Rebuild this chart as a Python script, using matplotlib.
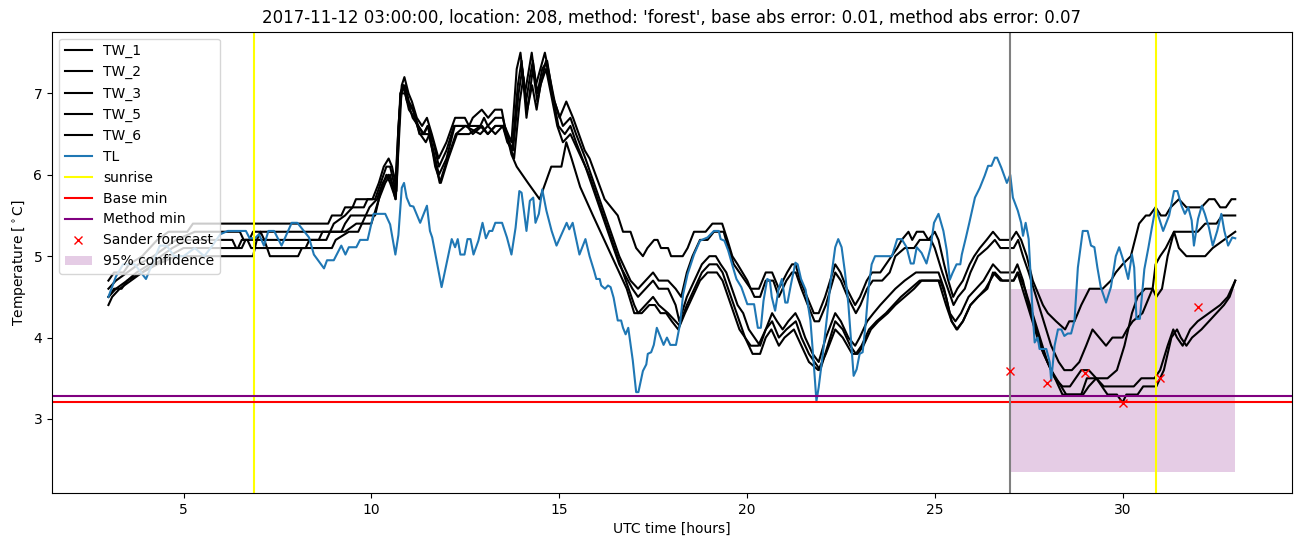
import matplotlib
matplotlib.use("Agg")
import matplotlib.pyplot as plt
import numpy as np

# (hour, temperature) vertices
tw_1 = [(3.0, 4.7), (3.15, 4.8), (3.4, 4.8), (3.55, 4.9), (3.9, 5.0), (4.1, 5.1), (4.3, 5.2), (4.6, 5.3), (5.1, 5.3),
        (5.25, 5.4), (8.85, 5.4), (8.95, 5.5), (9.2, 5.5), (9.3, 5.6), (9.5, 5.6), (9.59, 5.7), (10.03, 5.7), (10.2, 5.9),
        (10.33, 6.1), (10.46, 6.2), (10.55, 6.1), (10.64, 5.9), (10.75, 6.8), (10.81, 7.1), (10.88, 7.2), (10.99, 7.0),
        (11.08, 6.9), (11.21, 6.7), (11.35, 6.6), (11.48, 6.7), (11.61, 6.5), (11.79, 6.2), (12.0, 6.4), (12.23, 6.7),
        (12.49, 6.7), (12.6, 6.6), (12.7, 6.7), (12.94, 6.8), (13.11, 6.7), (13.29, 6.8), (13.47, 6.8), (13.55, 6.6),
        (13.73, 6.4), (13.87, 7.3), (13.97, 7.5), (14.09, 7.0), (14.27, 7.5), (14.38, 7.1), (14.5, 7.3), (14.62, 7.5),
        (14.75, 7.2), (14.88, 6.9), (15.01, 6.7), (15.19, 6.9), (15.37, 6.7), (15.68, 6.3), (15.81, 6.2), (16.21, 5.7),
        (16.56, 5.5), (16.7, 5.3), (16.9, 5.3), (17.05, 5.1), (17.23, 5.0), (17.35, 5.1), (17.53, 5.2), (17.62, 5.2),
        (17.71, 5.1), (17.9, 5.1), (17.98, 5.0), (18.29, 5.0), (18.42, 5.1), (18.59, 5.3), (18.9, 5.3), (19.08, 5.4),
        (19.34, 5.4), (19.48, 5.2), (19.61, 5.0), (19.75, 4.9), (19.88, 4.8), (20.01, 4.7), (20.1, 4.6), (20.32, 4.6),
        (20.5, 4.8), (20.67, 4.8), (20.85, 4.6), (21.07, 4.8), (21.2, 4.9), (21.29, 4.9), (21.42, 4.7), (21.6, 4.5),
        (21.78, 4.3), (21.91, 4.3), (22.08, 4.5), (22.35, 4.9), (22.49, 4.8), (22.66, 4.6), (22.88, 4.4), (23.01, 4.5),
        (23.19, 4.7), (23.33, 4.8), (23.55, 4.8), (23.7, 4.9), (23.85, 5.0), (24.0, 5.1), (24.12, 5.2), (24.3, 5.3),
        (24.4, 5.2), (24.52, 5.3), (24.7, 5.3), (24.83, 5.2), (25.0, 5.3), (25.1, 5.2), (25.25, 4.9), (25.36, 4.7),
        (25.49, 4.5), (25.6, 4.6), (25.75, 4.7), (25.93, 4.9), (26.05, 5.0), (26.2, 5.1), (26.38, 5.2), (26.55, 5.3),
        (26.73, 5.2), (27.03, 5.2), (27.17, 5.3), (27.3, 5.2), (27.45, 5.0), (27.61, 4.7), (27.88, 4.4), (28.01, 4.3),
        (28.23, 4.2), (28.47, 4.1), (28.58, 4.2), (28.72, 4.2), (28.9, 4.4), (29.12, 4.6), (29.47, 4.6), (29.69, 4.7),
        (29.82, 4.8), (30.0, 4.9), (30.22, 5.0), (30.44, 5.4), (30.62, 5.5), (30.72, 5.5), (30.88, 5.6), (31.02, 5.5),
        (31.15, 5.5), (31.28, 5.6), (31.5, 5.7), (31.7, 5.6), (32.1, 5.6), (32.3, 5.7), (32.45, 5.7), (32.6, 5.6),
        (32.75, 5.6), (32.9, 5.7), (33.0, 5.7)]

tw_2 = [(3.0, 4.6), (3.2, 4.7), (3.5, 4.8), (3.8, 4.9), (4.2, 5.0), (4.5, 5.1), (4.8, 5.2), (5.3, 5.3), (6.5, 5.3),
        (6.6, 5.2), (6.75, 5.2), (6.85, 5.3), (8.9, 5.3), (9.0, 5.4), (9.3, 5.5), (9.5, 5.6), (9.8, 5.6), (9.9, 5.7),
        (10.1, 5.7), (10.25, 5.9), (10.4, 6.1), (10.5, 6.1), (10.6, 5.9), (10.67, 5.8), (10.77, 7.0), (10.85, 7.1),
        (10.95, 6.9), (11.1, 6.8), (11.25, 6.6), (11.4, 6.5), (11.5, 6.6), (11.65, 6.4), (11.8, 6.1), (12.0, 6.3),
        (12.2, 6.6), (12.5, 6.6), (12.9, 6.6), (13.0, 6.7), (13.1, 6.6), (13.3, 6.7), (13.5, 6.7), (13.6, 6.5),
        (13.75, 6.3), (13.9, 7.1), (14.0, 7.4), (14.13, 6.7), (14.3, 7.3), (14.42, 6.9), (14.55, 7.2), (14.65, 7.4),
        (14.8, 7.0), (14.95, 6.8), (15.1, 6.6), (15.3, 6.7), (15.45, 6.5), (15.7, 6.2), (16.0, 5.8), (16.3, 5.4),
        (16.6, 5.0), (16.9, 4.7), (17.1, 4.6), (17.3, 4.7), (17.5, 4.8), (17.65, 4.7), (17.9, 4.7), (18.1, 4.6),
        (18.25, 4.5), (18.4, 4.8), (18.55, 5.0), (18.75, 5.2), (18.95, 5.2), (19.12, 5.3), (19.38, 5.3), (19.5, 5.1),
        (19.65, 4.9), (19.8, 4.8), (19.95, 4.7), (20.1, 4.6), (20.2, 4.5), (20.35, 4.5), (20.5, 4.7), (20.7, 4.7),
        (20.85, 4.5), (21.05, 4.7), (21.2, 4.8), (21.3, 4.8), (21.45, 4.6), (21.62, 4.4), (21.8, 4.2), (21.92, 4.2),
        (22.1, 4.4), (22.35, 4.8), (22.5, 4.7), (22.68, 4.5), (22.9, 4.3), (23.02, 4.4), (23.2, 4.6), (23.35, 4.7),
        (23.6, 4.7), (23.8, 4.8), (23.95, 5.0), (24.2, 5.1), (24.45, 5.1), (24.6, 5.2), (24.9, 5.2), (25.0, 5.1),
        (25.2, 4.8), (25.35, 4.6), (25.5, 4.4), (25.62, 4.5), (25.8, 4.6), (25.95, 4.8), (26.15, 5.0), (26.4, 5.1),
        (26.6, 5.2), (26.75, 5.1), (27.1, 5.1), (27.22, 5.2), (27.35, 5.0), (27.5, 4.8), (27.7, 4.5), (27.9, 4.2),
        (28.1, 3.9), (28.3, 3.7), (28.45, 3.6), (28.65, 3.6), (28.85, 3.7), (29.03, 3.9), (29.2, 4.1), (29.38, 4.0),
        (29.56, 3.9), (29.73, 4.0), (30.0, 4.0), (30.12, 4.1), (30.27, 4.2), (30.53, 4.3), (30.8, 4.6), (30.88, 4.9),
        (31.0, 5.0), (31.15, 5.1), (31.37, 5.3), (32.0, 5.3), (32.2, 5.4), (32.5, 5.4), (32.65, 5.5), (33.0, 5.5)]

tw_3 = [(3.0, 4.5), (3.2, 4.6), (3.5, 4.7), (3.75, 4.8), (4.1, 4.9), (4.4, 5.0), (4.7, 5.1), (5.1, 5.2), (6.3, 5.2),
        (6.4, 5.1), (6.55, 5.1), (6.65, 5.2), (8.6, 5.2), (8.7, 5.3), (9.2, 5.3), (9.3, 5.4), (9.45, 5.5), (9.85, 5.5),
        (9.95, 5.6), (10.15, 5.7), (10.3, 5.9), (10.45, 6.0), (10.55, 5.9), (10.65, 5.8), (10.78, 7.0), (10.86, 7.1),
        (10.97, 6.9), (11.1, 6.7), (11.25, 6.6), (11.38, 6.5), (11.5, 6.6), (11.65, 6.3), (11.8, 6.0), (12.0, 6.2),
        (12.22, 6.6), (12.55, 6.6), (12.7, 6.5), (12.95, 6.6), (13.1, 6.5), (13.3, 6.6), (13.5, 6.6), (13.62, 6.4),
        (13.77, 6.3), (13.92, 7.0), (14.02, 7.3), (14.12, 6.9), (14.22, 7.2), (14.3, 7.4), (14.42, 7.0), (14.55, 7.3),
        (14.68, 7.4), (14.82, 7.0), (14.98, 6.6), (15.15, 6.5), (15.3, 6.6), (15.45, 6.4), (15.7, 6.1), (16.0, 5.7),
        (16.3, 5.3), (16.6, 4.9), (16.95, 4.6), (17.1, 4.5), (17.3, 4.6), (17.5, 4.7), (17.65, 4.6), (17.9, 4.6),
        (18.1, 4.4), (18.2, 4.2), (18.4, 4.5), (18.6, 4.7), (18.8, 4.9), (19.0, 5.0), (19.17, 5.0), (19.3, 4.9),
        (19.45, 4.8), (19.6, 4.6), (19.75, 4.4), (19.9, 4.3), (20.05, 4.1), (20.2, 4.0), (20.35, 3.9), (20.5, 4.1),
        (20.67, 4.3), (20.8, 4.2), (20.95, 4.1), (21.1, 4.2), (21.29, 4.3), (21.4, 4.2), (21.55, 4.0), (21.75, 3.8),
        (21.91, 3.7), (22.1, 4.0), (22.35, 4.3), (22.5, 4.2), (22.7, 4.0), (22.88, 3.9), (23.0, 4.0), (23.2, 4.2),
        (23.37, 4.3), (23.55, 4.4), (23.75, 4.5), (23.95, 4.6), (24.2, 4.7), (24.5, 4.8), (25.1, 4.8), (25.25, 4.6),
        (25.4, 4.3), (25.55, 4.2), (25.7, 4.3), (25.9, 4.5), (26.1, 4.6), (26.3, 4.7), (26.55, 4.9), (26.75, 4.8),
        (27.1, 4.8), (27.2, 4.9), (27.35, 4.7), (27.5, 4.4), (27.7, 4.1), (27.9, 3.8), (28.1, 3.6), (28.3, 3.45),
        (28.5, 3.3), (28.9, 3.3), (29.05, 3.5), (29.3, 3.5), (29.5, 3.4), (30.3, 3.4), (30.5, 3.5), (30.85, 3.5),
        (31.0, 3.6), (31.2, 3.9), (31.35, 4.1), (31.45, 4.0), (31.6, 3.9), (31.8, 4.1), (32.0, 4.2), (32.3, 4.3),
        (32.6, 4.4), (32.8, 4.5), (33.0, 4.7)]

tw_5 = [(3.0, 4.5), (3.15, 4.6), (3.35, 4.6), (3.5, 4.7), (3.9, 4.8), (4.2, 4.9), (4.6, 5.0), (5.0, 5.1), (6.45, 5.1),
        (6.55, 5.2), (6.7, 5.2), (6.8, 5.1), (8.25, 5.1), (8.35, 5.2), (8.8, 5.2), (8.9, 5.3), (9.3, 5.3), (9.6, 5.4),
        (9.75, 5.4), (9.85, 5.5), (10.1, 5.5), (10.25, 5.8), (10.4, 6.0), (10.5, 5.9), (10.65, 5.7), (10.8, 7.0),
        (10.9, 7.1), (11.0, 6.9), (11.12, 6.8), (11.28, 6.5), (11.4, 6.5), (11.52, 6.5), (11.68, 6.2), (11.82, 5.9),
        (12.03, 6.2), (12.25, 6.5), (12.5, 6.6), (12.9, 6.5), (13.1, 6.6), (13.3, 6.5), (13.5, 6.6), (13.65, 6.4),
        (13.8, 6.2), (13.95, 6.9), (14.05, 7.2), (14.15, 6.8), (14.28, 7.1), (14.4, 6.8), (14.5, 7.1), (14.65, 7.3),
        (14.78, 7.0), (14.95, 6.6), (15.1, 6.4), (15.3, 6.5), (15.5, 6.3), (15.8, 6.0), (16.1, 5.6), (16.4, 5.2),
        (16.7, 4.8), (17.0, 4.4), (17.1, 4.3), (17.3, 4.4), (17.5, 4.5), (17.65, 4.4), (17.9, 4.3), (18.1, 4.2),
        (18.2, 4.15), (18.4, 4.4), (18.6, 4.6), (18.8, 4.8), (19.0, 4.9), (19.2, 4.9), (19.35, 4.8), (19.5, 4.6),
        (19.65, 4.4), (19.8, 4.2), (19.95, 4.0), (20.1, 3.9), (20.3, 3.9), (20.5, 4.1), (20.67, 4.2), (20.85, 4.0),
        (21.05, 4.1), (21.3, 4.2), (21.45, 4.0), (21.65, 3.8), (21.8, 3.7), (21.95, 3.6), (22.15, 3.9), (22.35, 4.2),
        (22.55, 4.1), (22.75, 3.9), (22.9, 3.8), (23.05, 3.9), (23.25, 4.1), (23.45, 4.2), (23.7, 4.3), (23.9, 4.4),
        (24.1, 4.5), (24.35, 4.6), (24.6, 4.7), (25.15, 4.7), (25.3, 4.5), (25.45, 4.2), (25.6, 4.1), (25.75, 4.2),
        (25.95, 4.4), (26.15, 4.5), (26.35, 4.6), (26.6, 4.8), (26.8, 4.7), (27.1, 4.7), (27.22, 4.8), (27.4, 4.6),
        (27.6, 4.3), (27.8, 4.0), (28.0, 3.7), (28.2, 3.5), (28.4, 3.4), (28.6, 3.4), (28.75, 3.5), (28.9, 3.6),
        (29.1, 3.6), (29.3, 3.5), (29.6, 3.5), (29.85, 3.6), (30.05, 3.9), (30.25, 4.3), (30.4, 4.5), (30.6, 4.6),
        (30.8, 4.6), (30.9, 4.5), (31.05, 4.6), (31.2, 5.0), (31.37, 5.3), (31.5, 5.1), (31.7, 5.0), (32.2, 5.0),
        (32.4, 5.1), (32.7, 5.2), (33.0, 5.3)]

tw_6 = [(3.0, 4.4), (3.1, 4.5), (3.3, 4.6), (3.6, 4.7), (3.9, 4.8), (4.3, 4.9), (4.8, 5.0), (6.85, 5.0), (6.95, 5.2),
        (7.05, 5.3), (7.15, 5.2), (7.3, 5.0), (8.05, 5.0), (8.15, 5.1), (8.95, 5.1), (9.05, 5.2), (9.4, 5.3),
        (9.65, 5.3), (9.75, 5.4), (10.0, 5.4), (10.2, 5.7), (10.37, 5.9), (10.5, 6.0), (10.64, 5.7), (10.72, 6.6),
        (10.8, 7.0), (10.9, 7.0), (11.0, 6.8), (11.15, 6.7), (11.3, 6.5), (11.45, 6.4), (11.55, 6.5), (11.7, 6.1),
        (11.85, 5.9), (12.05, 6.2), (12.28, 6.5), (12.6, 6.5), (12.9, 6.6), (13.1, 6.5), (13.3, 6.6), (13.55, 6.6),
        (13.73, 6.25), (13.87, 6.1), (14.17, 5.9), (14.48, 5.7), (14.79, 6.1), (15.06, 6.1), (15.19, 6.4),
        (15.33, 6.2), (15.56, 5.85), (15.9, 5.5), (16.2, 5.2), (16.5, 4.9), (16.8, 4.6), (17.0, 4.3), (17.2, 4.3),
        (17.4, 4.4), (17.55, 4.4), (17.7, 4.3), (17.85, 4.3), (18.0, 4.2), (18.17, 4.1), (18.35, 4.3), (18.55, 4.5),
        (18.75, 4.7), (18.95, 4.8), (19.2, 4.8), (19.35, 4.7), (19.5, 4.5), (19.65, 4.3), (19.8, 4.1), (19.95, 4.0),
        (20.15, 3.8), (20.35, 3.8), (20.5, 4.0), (20.65, 4.1), (20.85, 3.9), (21.0, 4.0), (21.25, 4.1), (21.45, 3.9),
        (21.65, 3.7), (21.9, 3.6), (22.1, 3.8), (22.35, 4.1), (22.55, 4.0), (22.8, 3.8), (22.95, 3.8), (23.1, 3.9),
        (23.3, 4.1), (23.5, 4.2), (23.75, 4.3), (23.95, 4.4), (24.2, 4.5), (24.45, 4.6), (24.65, 4.7), (25.1, 4.7),
        (25.3, 4.4), (25.45, 4.2), (25.58, 4.1), (25.75, 4.2), (25.95, 4.4), (26.15, 4.5), (26.4, 4.6), (26.55, 4.8),
        (26.75, 4.7), (27.1, 4.7), (27.2, 4.8), (27.4, 4.5), (27.6, 4.2), (27.8, 3.9), (28.0, 3.7), (28.2, 3.5),
        (28.4, 3.3), (28.95, 3.3), (29.1, 3.4), (29.3, 3.5), (29.45, 3.4), (29.6, 3.3), (29.85, 3.3), (30.0, 3.2),
        (30.1, 3.3), (30.4, 3.3), (30.55, 3.4), (30.9, 3.4), (31.1, 3.6), (31.3, 4.0), (31.45, 4.1), (31.55, 4.0),
        (31.7, 3.9), (31.85, 4.0), (32.1, 4.1), (32.3, 4.2), (32.5, 4.3), (32.7, 4.4), (32.85, 4.5), (33.0, 4.7)]

tl = [(3.0, 4.5), (3.2, 4.75), (3.39, 4.9), (3.7, 4.9), (4.0, 4.72), (4.37, 5.13), (4.55, 5.13), (4.75, 5.0),
      (5.0, 5.0), (5.3, 5.1), (5.55, 5.0), (5.72, 5.1), (5.98, 5.27), (6.18, 5.31), (6.66, 5.31), (6.76, 5.22),
      (6.9, 5.22), (7.01, 5.27), (7.14, 5.13), (7.26, 5.31), (7.41, 5.31), (7.61, 5.13), (7.88, 5.41), (8.03, 5.41),
      (8.34, 5.23), (8.47, 5.02), (8.74, 4.85), (8.82, 4.95), (9.0, 4.95), (9.2, 5.13), (9.31, 5.02), (9.4, 5.11),
      (9.6, 5.11), (9.7, 5.2), (9.9, 5.2), (10.06, 5.52), (10.37, 5.52), (10.5, 5.39), (10.64, 5.02), (10.72, 5.26),
      (10.81, 5.84), (10.87, 5.9), (10.94, 5.72), (11.03, 5.62), (11.12, 5.61), (11.3, 5.41), (11.48, 5.62),
      (11.56, 5.31), (11.62, 5.23), (11.87, 4.62), (12.14, 5.21), (12.23, 5.11), (12.3, 5.21), (12.37, 5.02),
      (12.48, 5.02), (12.56, 5.21), (12.64, 5.21), (12.72, 5.02), (12.85, 5.19), (12.96, 5.41), (13.05, 5.22),
      (13.14, 5.31), (13.22, 5.31), (13.3, 5.41), (13.48, 5.41), (13.61, 5.23), (13.73, 5.02), (13.84, 5.35),
      (13.94, 5.8), (14.0, 5.78), (14.13, 5.31), (14.22, 5.68), (14.31, 5.72), (14.37, 5.41), (14.46, 5.52),
      (14.55, 5.82), (14.66, 5.56), (14.8, 5.31), (14.93, 5.13), (15.2, 5.41), (15.27, 5.33), (15.36, 5.41),
      (15.54, 5.02), (15.7, 5.21), (15.81, 5.0), (15.93, 4.82), (15.99, 4.72), (16.08, 4.72), (16.12, 4.64),
      (16.22, 4.6), (16.3, 4.64), (16.37, 4.62), (16.45, 4.49), (16.56, 4.21), (16.65, 4.21), (16.7, 4.12),
      (16.77, 4.04), (16.84, 4.12), (16.96, 3.72), (17.05, 3.33), (17.11, 3.33), (17.23, 3.59), (17.32, 3.67),
      (17.36, 3.8), (17.45, 3.82), (17.52, 3.91), (17.6, 4.12), (17.78, 3.91), (17.87, 4.0), (17.96, 3.91),
      (18.11, 3.91), (18.22, 4.17), (18.3, 4.53), (18.42, 4.78), (18.59, 5.02), (18.75, 5.19), (18.95, 5.23),
      (19.12, 5.31), (19.25, 5.31), (19.3, 5.21), (19.4, 5.19), (19.5, 5.07), (19.63, 4.86), (19.72, 4.72),
      (19.85, 4.62), (20.01, 4.41), (20.19, 4.41), (20.29, 4.12), (20.37, 4.12), (20.44, 4.45), (20.54, 4.72),
      (20.61, 4.7), (20.66, 4.5), (20.75, 4.33), (20.84, 4.59), (20.93, 4.72), (21.02, 4.43), (21.08, 4.43),
      (21.17, 4.65), (21.29, 4.92), (21.35, 4.9), (21.44, 4.72), (21.56, 4.59), (21.69, 4.21), (21.78, 3.67),
      (21.85, 3.22), (21.91, 3.39), (22.02, 3.8), (22.13, 4.25), (22.23, 4.7), (22.35, 5.11), (22.43, 5.21),
      (22.52, 5.11), (22.61, 4.8), (22.7, 4.41), (22.84, 3.53), (22.92, 3.61), (23.0, 3.8), (23.08, 3.82),
      (23.16, 4.17), (23.24, 4.62), (23.32, 4.9), (23.41, 5.0), (23.86, 5.0), (24.0, 5.21), (24.12, 5.21),
      (24.25, 5.11), (24.36, 4.91), (24.44, 4.91), (24.52, 5.11), (24.65, 5.04), (24.78, 4.91), (24.89, 5.11),
      (24.98, 5.41), (25.1, 5.52), (25.23, 5.31), (25.32, 5.07), (25.4, 4.71), (25.47, 4.79), (25.58, 4.9),
      (25.68, 4.9), (25.72, 5.02), (25.83, 5.23), (25.92, 5.41), (26.07, 5.72), (26.2, 5.84), (26.33, 5.99),
      (26.42, 6.11), (26.51, 6.11), (26.6, 6.21), (26.66, 6.21), (26.77, 6.09), (26.92, 5.9), (27.01, 6.0),
      (27.08, 5.72), (27.21, 5.56), (27.3, 5.41), (27.35, 5.25), (27.42, 5.41), (27.5, 5.21), (27.61, 4.27),
      (27.66, 3.94), (27.74, 4.0), (27.79, 3.86), (27.97, 3.86), (28.06, 3.7), (28.1, 3.47), (28.19, 3.9),
      (28.28, 4.1), (28.37, 4.1), (28.45, 4.02), (28.54, 4.05), (28.63, 4.05), (28.72, 4.21), (28.81, 4.86),
      (28.94, 5.31), (29.07, 5.31), (29.16, 5.13), (29.25, 5.11), (29.33, 4.86), (29.42, 4.62), (29.56, 4.43),
      (29.69, 4.62), (29.82, 5.0), (29.91, 5.11), (30.04, 4.92), (30.15, 4.72), (30.25, 5.02), (30.31, 4.86),
      (30.37, 4.23), (30.46, 4.23), (30.58, 4.84), (30.69, 5.11), (30.78, 5.35), (30.88, 5.6), (30.99, 5.44),
      (31.08, 5.31), (31.24, 5.5), (31.37, 5.8), (31.46, 5.8), (31.57, 5.62), (31.66, 5.52), (31.75, 5.6),
      (31.84, 5.44), (31.9, 5.13), (32.01, 5.46), (32.11, 5.62), (32.19, 5.52), (32.3, 5.35), (32.4, 5.13),
      (32.52, 5.31), (32.63, 5.52), (32.71, 5.31), (32.81, 5.13), (32.92, 5.23), (33.0, 5.22)]

tw_series = {"TW_1": tw_1, "TW_2": tw_2, "TW_3": tw_3, "TW_5": tw_5, "TW_6": tw_6}

sunrise_hours = [6.88, 30.88]
forecast_start = 27.0
base_min = 3.21
method_min = 3.28
sander_hours = [27, 28, 29, 30, 31, 32]
sander_values = [3.59, 3.44, 3.57, 3.2, 3.5, 4.38]
conf_hours = [27, 33]
conf_low = [2.35, 2.35]
conf_high = [4.6, 4.6]

title = ("2017-11-12 03:00:00, location: 208, method: 'forest', "
         "base abs error: 0.01, method abs error: 0.07")

fig, ax = plt.subplots(figsize=(13.02, 5.47), dpi=100)
fig.subplots_adjust(left=0.040, right=0.992, top=0.942, bottom=0.099)

for name, pts in tw_series.items():
    arr = np.array(pts)
    ax.plot(arr[:, 0], arr[:, 1], color="black", label=name)

arr = np.array(tl)
ax.plot(arr[:, 0], arr[:, 1], color="tab:blue", label="TL")

for i, h in enumerate(sunrise_hours):
    ax.axvline(h, color="yellow", label="sunrise" if i == 0 else None)
ax.axhline(base_min, color="red", label="Base min")
ax.axhline(method_min, color="purple", label="Method min")
ax.axvline(forecast_start, color="gray")
ax.plot(sander_hours, sander_values, "x", color="red", label="Sander forecast")
ax.fill_between(conf_hours, conf_low, conf_high, color="purple", alpha=0.2, linewidth=0,
                label="95% confidence")

ax.set_title(title)
ax.set_xlabel("UTC time [hours]")
ax.set_ylabel(r"Temperature [$^\circ$C]")
ax.legend(loc="upper left")

fig.savefig("out.png", dpi=100)
